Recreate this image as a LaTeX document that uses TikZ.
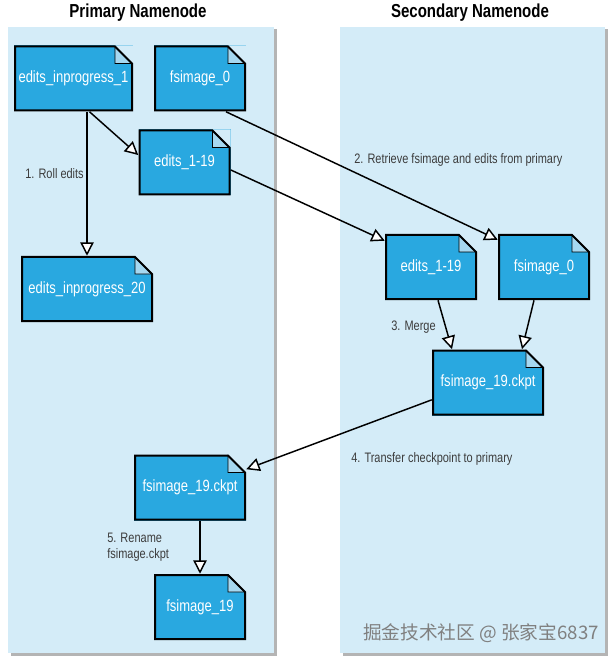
\documentclass[tikz,border=0pt]{standalone}
\usepackage{fontspec}
\setmainfont{Liberation Sans}[FakeStretch=0.8]
\newfontfamily\cjkfont{Noto Sans CJK SC}
\usetikzlibrary{arrows.meta, positioning}
\usepackage{xcolor}

\definecolor{panelblue}{HTML}{D4ECF8}
\definecolor{docblue}{HTML}{29A8E0}
\definecolor{foldblue}{HTML}{A6D8F0}
\definecolor{labelgray}{HTML}{3C3C3C}
\definecolor{shadowgray}{HTML}{B4B4B4}

\newlength{\foldsize}
\setlength{\foldsize}{12.75pt}

\tikzset{
    docfile/.style={rectangle, fill=docblue, text=white, inner sep=0pt,
        minimum height=49.5pt, font=\fontsize{12.2}{14}\selectfont,
        path picture={
            % cut corner, fold and outline, kept inside the node
            \fill[panelblue] (path picture bounding box.north east) -- ++(-\foldsize-1.5pt,0) -- ++(\foldsize+1.5pt,-\foldsize-1.5pt) -- cycle;
            \filldraw[fill=foldblue, draw=black, line width=0.6pt] ([shift={(-\foldsize-0.75pt,-0.75pt)}]path picture bounding box.north east)
                -- ++(0,-\foldsize) -- ++(\foldsize,0) -- cycle;
            \draw[line width=1.5pt, line join=miter]
                ([shift={(-\foldsize-0.75pt,-0.75pt)}]path picture bounding box.north east)
                -- ([shift={(0.75pt,-0.75pt)}]path picture bounding box.north west)
                -- ([shift={(0.75pt,0.75pt)}]path picture bounding box.south west)
                -- ([shift={(-0.75pt,0.75pt)}]path picture bounding box.south east)
                -- ([shift={(-0.75pt,-\foldsize-0.75pt)}]path picture bounding box.north east) -- cycle;
        }},
    small doc/.style={docfile, minimum width=69pt},
    ckpt doc/.style={docfile, minimum width=84pt},
    flow/.style={draw, line width=1.1pt, -{Triangle[fill=white, length=10pt, width=10pt]}},
    lbl/.style={text=labelgray, inner sep=0pt, font=\fontsize{10.3}{12}\selectfont},
    title/.style={inner sep=0pt, font=\fontsize{14.1}{16}\bfseries},
}

\begin{document}
\begin{tikzpicture}[x=0.75pt, y=-0.75pt]
    \useasboundingbox (0,0) rectangle (616,666);

    % Panels with shadow
    \fill[shadowgray] (10.5,29.5) rectangle (277,656);
    \fill[panelblue] (8,27) rectangle (274,653);
    \fill[shadowgray] (342.5,29.5) rectangle (608,656);
    \fill[panelblue] (340,27) rectangle (605,653);

    \node[title] (primary) at (138,13) {Primary Namenode};
    \node[title] (secondary) at (470,13) {Secondary Namenode};

    % Primary side files
    \node[docfile, minimum width=89.25pt] (eip1) at (73.5,78.5) {edits\_inprogress\_1};
    \node[small doc] (fsL) at (200,78.5) {fsimage\_0};
    \node[small doc] (e119L) at (184.5,162.5) {edits\_1-19};
    \node[docfile, minimum width=99pt] (eip20) at (87,289) {edits\_inprogress\_20};
    \node[ckpt doc] (ckL) at (190,487.5) {fsimage\_19.ckpt};
    \node[small doc] (fs19) at (200,607) {fsimage\_19};

    % Secondary side files
    \node[small doc] (e119R) at (431,267) {edits\_1-19};
    \node[small doc] (fsR) at (544,267) {fsimage\_0};
    \node[ckpt doc] (ckR) at (488,382.5) {fsimage\_19.ckpt};

    % Steps
    \draw[flow] ([xshift=12pt]eip1.south) -- ([yshift=5.6pt]e119L.west);
    \draw[flow] (eip20.north |- eip1.south) -- (eip20.north);
    \draw[flow] ([xshift=19.5pt]fsL.south) -- ([yshift=-4.5pt]fsR.north west);
    \draw[flow] ([yshift=-5.6pt]e119L.east) -- ([yshift=-5.25pt]e119R.north west);
    \draw[flow] ([xshift=5.25pt]e119R.south) -- ([xshift=-27pt]ckR.north);
    \draw[flow] ([xshift=-7.5pt]fsR.south) -- ([xshift=25.5pt]ckR.north);
    \draw[flow] ([yshift=-13pt]ckR.west) -- ([yshift=-11.25pt]ckL.north east);
    \draw[flow] (fs19.north |- ckL.south) -- (fs19.north);

    \node[lbl, anchor=east] (roll) at (84,174) {1. Roll edits};
    \node[lbl, anchor=west] (fetch) at (354,160) {2. Retrieve fsimage and edits from primary};
    \node[lbl, anchor=west] (merge) at (391,327) {3. Merge};
    \node[lbl, anchor=west] (send) at (351,459) {4. Transfer checkpoint to primary};
    \node[lbl, anchor=north west, align=left] (rename) at (107,533) {5. Rename\\fsimage.ckpt};

    \node[anchor=east, inner sep=0pt, text=gray, font=\cjkfont\fontsize{14}{16}\selectfont] (mark) at (599,633) {掘金技术社区 @ 张家宝6837};
\end{tikzpicture}
\end{document}
